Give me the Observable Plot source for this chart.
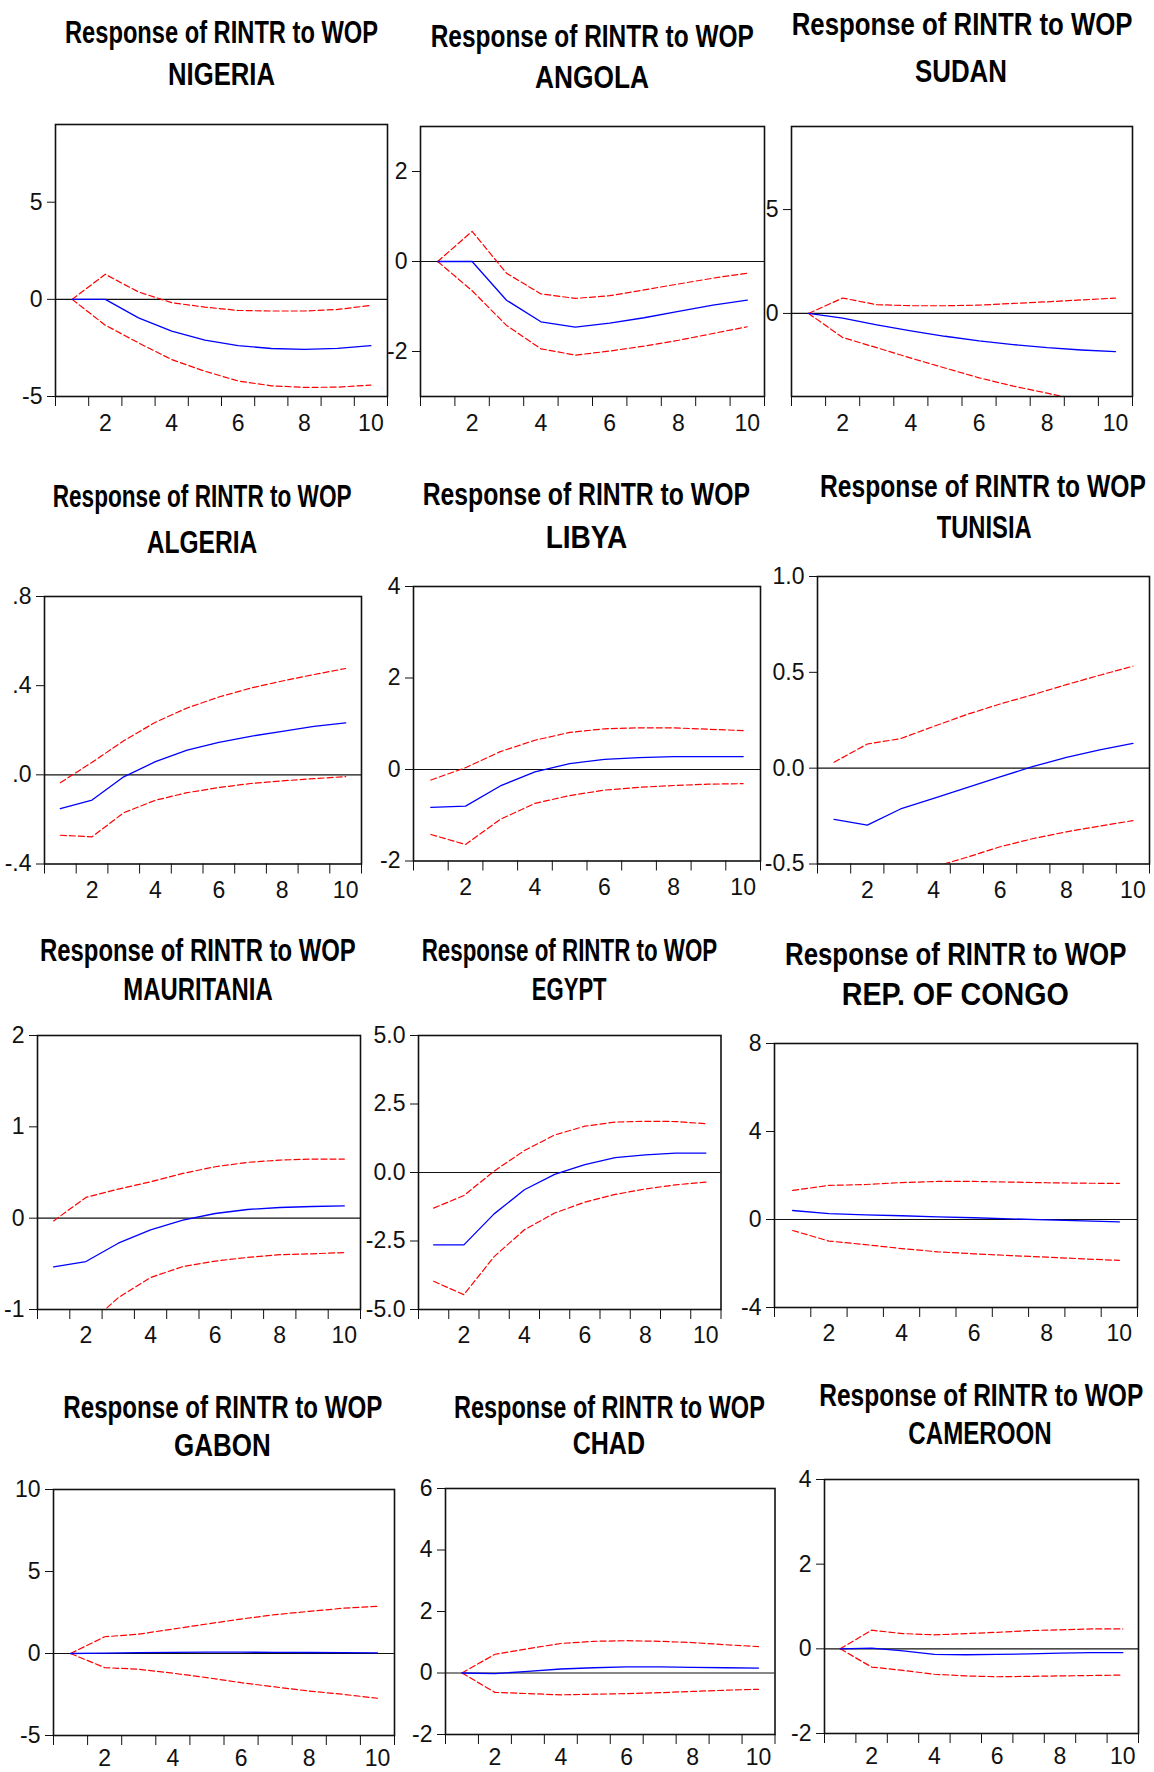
<!DOCTYPE html>
<html>
<head>
<meta charset="utf-8">
<script src="https://cdn.jsdelivr.net/npm/d3@7"></script>
<script src="https://cdn.jsdelivr.net/npm/@observablehq/plot@0.6"></script>
<style>
  html, body { margin: 0; padding: 0; background: #fff; overflow: hidden; }
  #page { position: relative; width: 1154px; height: 1772px; overflow: hidden; background: #fff; }
  .panel { position: absolute; }
  .panel svg text { font-size: 23px; font-family: "Liberation Sans Narrow", "Arial Narrow", "Liberation Sans", Arial, sans-serif; fill: #111; }
  #titles { position: absolute; left: 0; top: 0; pointer-events: none; }
</style>
</head>
<body>
<div id="page"></div>
<script>
// Impulse responses of RINTR to a WOP shock, periods 1..10, with ±2 S.E. bands
const periods = [1, 2, 3, 4, 5, 6, 7, 8, 9, 10];
const countries = ["NIGERIA", "ANGOLA", "SUDAN", "ALGERIA", "LIBYA", "TUNISIA",
                   "MAURITANIA", "EGYPT", "REP. OF CONGO", "GABON", "CHAD", "CAMEROON"];
const titleText = "Response of RINTR to WOP";

const nigeriaResp  = [0, 0, -0.95, -1.64, -2.10, -2.38, -2.53, -2.57, -2.52, -2.38];
const nigeriaUpper = [0, 1.29, 0.38, -0.17, -0.40, -0.57, -0.60, -0.60, -0.52, -0.31];
const nigeriaLower = [0, -1.33, -2.24, -3.10, -3.70, -4.20, -4.45, -4.53, -4.52, -4.41];

const angolaResp  = [0, 0, -0.86, -1.34, -1.46, -1.37, -1.25, -1.11, -0.97, -0.86];
const angolaUpper = [0, 0.67, -0.26, -0.72, -0.82, -0.76, -0.63, -0.50, -0.37, -0.26];
const angolaLower = [0, -0.65, -1.42, -1.94, -2.08, -1.99, -1.88, -1.75, -1.60, -1.45];

const sudanResp  = [0, -0.23, -0.55, -0.84, -1.10, -1.32, -1.50, -1.65, -1.76, -1.84];
const sudanUpper = [0, 0.74, 0.42, 0.37, 0.37, 0.40, 0.48, 0.56, 0.65, 0.74];
const sudanLower = [0, -1.16, -1.65, -2.15, -2.63, -3.10, -3.50, -3.84, -4.20, -4.55];

const algeriaResp  = [-0.152, -0.113, -0.009, 0.059, 0.111, 0.146, 0.173, 0.195, 0.217, 0.233];
const algeriaUpper = [-0.035, 0.056, 0.153, 0.236, 0.300, 0.349, 0.389, 0.421, 0.450, 0.477];
const algeriaLower = [-0.271, -0.278, -0.170, -0.114, -0.080, -0.057, -0.039, -0.027, -0.017, -0.008];

const libyaResp  = [-0.83, -0.80, -0.36, -0.05, 0.13, 0.22, 0.26, 0.28, 0.28, 0.28];
const libyaUpper = [-0.23, 0.04, 0.39, 0.64, 0.81, 0.89, 0.91, 0.91, 0.88, 0.85];
const libyaLower = [-1.42, -1.64, -1.09, -0.74, -0.57, -0.45, -0.39, -0.35, -0.32, -0.31];

const tunisiaResp  = [-0.267, -0.297, -0.213, -0.157, -0.101, -0.045, 0.009, 0.056, 0.096, 0.129];
const tunisiaUpper = [0.031, 0.126, 0.154, 0.218, 0.280, 0.335, 0.384, 0.436, 0.485, 0.532];
const tunisiaLower = [-0.62, -0.72, -0.62, -0.516, -0.465, -0.410, -0.367, -0.332, -0.302, -0.274];

const mauritaniaResp  = [-0.533, -0.475, -0.274, -0.128, -0.022, 0.051, 0.095, 0.117, 0.128, 0.135];
const mauritaniaUpper = [-0.03, 0.227, 0.318, 0.398, 0.490, 0.563, 0.611, 0.636, 0.647, 0.647];
const mauritaniaLower = [-1.05, -1.19, -0.87, -0.65, -0.53, -0.47, -0.43, -0.40, -0.39, -0.376];

const egyptResp  = [-2.64, -2.64, -1.51, -0.63, -0.07, 0.29, 0.54, 0.64, 0.71, 0.71];
const egyptUpper = [-1.30, -0.84, 0.05, 0.80, 1.37, 1.69, 1.84, 1.87, 1.86, 1.78];
const egyptLower = [-3.97, -4.46, -3.07, -2.09, -1.48, -1.08, -0.80, -0.60, -0.45, -0.35];

const congoResp  = [0.41, 0.27, 0.21, 0.17, 0.12, 0.08, 0.03, -0.02, -0.06, -0.11];
const congoUpper = [1.32, 1.55, 1.59, 1.68, 1.73, 1.73, 1.70, 1.67, 1.65, 1.64];
const congoLower = [-0.50, -0.98, -1.14, -1.32, -1.47, -1.56, -1.64, -1.71, -1.79, -1.86];

const gabonResp  = [0, 0.02, 0.05, 0.07, 0.08, 0.08, 0.07, 0.06, 0.05, 0.04];
const gabonUpper = [0, 1.02, 1.18, 1.49, 1.80, 2.10, 2.37, 2.57, 2.76, 2.88];
const gabonLower = [0, -0.86, -0.96, -1.20, -1.47, -1.78, -2.04, -2.29, -2.49, -2.73];

const chadResp  = [0, -0.02, 0.05, 0.13, 0.17, 0.20, 0.20, 0.18, 0.17, 0.16];
const chadUpper = [0, 0.61, 0.79, 0.96, 1.03, 1.05, 1.03, 0.99, 0.92, 0.86];
const chadLower = [0, -0.63, -0.67, -0.71, -0.69, -0.67, -0.64, -0.60, -0.56, -0.53];

const cameroonResp  = [0, 0.015, -0.05, -0.13, -0.14, -0.13, -0.12, -0.10, -0.09, -0.09];
const cameroonUpper = [0, 0.44, 0.36, 0.33, 0.36, 0.39, 0.43, 0.45, 0.47, 0.47];
const cameroonLower = [0, -0.43, -0.51, -0.60, -0.64, -0.66, -0.65, -0.64, -0.63, -0.62];

// y-axis ranges and tick values for each panel
const yDomains = [[-5, 9], [-3, 3], [-4, 9], [-0.4, 0.8], [-2, 4], [-0.5, 1],
                  [-1, 2], [-5, 5], [-4, 8], [-5, 10], [-2, 6], [-2, 4]];
const yTickValues = [[-5, 0, 5], [-2, 0, 2], [0, 5], [-0.4, 0, 0.4, 0.8], [-2, 0, 2, 4], [-0.5, 0, 0.5, 1],
                     [-1, 0, 1, 2], [-5, -2.5, 0, 2.5, 5], [-4, 0, 4, 8], [-5, 0, 5, 10], [-2, 0, 2, 4, 6], [-2, 0, 2, 4]];
const xLabelPeriods = [2, 4, 6, 8, 10];

const series = [
  [nigeriaResp, nigeriaUpper, nigeriaLower],
  [angolaResp, angolaUpper, angolaLower],
  [sudanResp, sudanUpper, sudanLower],
  [algeriaResp, algeriaUpper, algeriaLower],
  [libyaResp, libyaUpper, libyaLower],
  [tunisiaResp, tunisiaUpper, tunisiaLower],
  [mauritaniaResp, mauritaniaUpper, mauritaniaLower],
  [egyptResp, egyptUpper, egyptLower],
  [congoResp, congoUpper, congoLower],
  [gabonResp, gabonUpper, gabonLower],
  [chadResp, chadUpper, chadLower],
  [cameroonResp, cameroonUpper, cameroonLower]
];

// Tick label formats (EViews style, ASCII hyphen for negatives)
const plainFmt = d => String(d);
const fixedFmt = d => d.toFixed(1);
const dotFmt = d => (d < 0 ? "-" : "") + Math.abs(d).toFixed(1).replace(/^0/, "");
const yFormats = [plainFmt, plainFmt, plainFmt, dotFmt, plainFmt, fixedFmt,
                  plainFmt, fixedFmt, plainFmt, plainFmt, plainFmt, plainFmt];

// Layout: plot frame [left, top, right, bottom] in page pixels
const frames = [
  [55, 124, 387, 396], [420, 126, 764, 396], [791, 126, 1132, 396],
  [43.5, 596, 360.5, 863.5], [412.5, 586, 759.5, 860.5], [816.5, 576, 1148.5, 863.5],
  [36.5, 1035, 359.5, 1309], [417.5, 1035, 720, 1309], [773.5, 1042.5, 1136.5, 1306.5],
  [52.5, 1488.5, 393.5, 1734.5], [444.5, 1488, 774, 1734], [823.5, 1478.5, 1137.5, 1732.5]
];
// gap between frame bottom and the period labels
const xLabelGap = [18, 18, 18, 18, 18, 18, 17, 17, 17, 14, 14, 14];
// Title lines: [x, width, baseline] for line 1 and line 2
const titleBoxes = [
  [[65, 313, 43.3], [168, 107, 85]],
  [[430.7, 323.3, 46.7], [535, 114, 88.3]],
  [[791.7, 341, 35], [915, 92, 81.7]],
  [[52.7, 299, 506.7], [146.7, 110.6, 553.3]],
  [[422.7, 327.3, 505], [545.7, 81.6, 548.3]],
  [[820, 326, 496.7], [936.7, 95, 538.3]],
  [[40, 316, 960.7], [123.3, 149.4, 1000]],
  [[421.7, 295.6, 960.7], [531.7, 75, 1000]],
  [[785, 341.7, 965], [841.7, 227.3, 1005]],
  [[63.3, 319.4, 1418.3], [174, 96.7, 1456]],
  [[454, 311, 1417.7], [572.7, 72.3, 1454]],
  [[819.3, 324, 1405.7], [908.3, 143.4, 1444]]
];

const narrowFont = '"Liberation Sans Narrow", "Arial Narrow", "Liberation Sans", Arial, sans-serif';
const page = document.getElementById("page");
const mL = 70, mR = 4, mT = 10, mB = 44;

countries.forEach((name, i) => {
  const [fl, ft, fr, fb] = frames[i];
  const [resp, upper, lower] = series[i];
  const rows = periods.map((p, k) => ({period: p, resp: resp[k], upper: upper[k], lower: lower[k]}));
  const halfTicks = d3.range(0.5, 11, 1);

  const chart = Plot.plot({
    width: (fr - fl) + mL + mR,
    height: (fb - ft) + mT + mB,
    marginLeft: mL, marginRight: mR, marginTop: mT, marginBottom: mB,
    style: {background: "none", overflow: "visible", fontFamily: narrowFont, fontSize: "23px", color: "#111"},
    x: {domain: [0.5, 10.5], label: null},
    y: {domain: yDomains[i], label: null},
    marks: [
      Plot.ruleY([0], {stroke: "#111", strokeWidth: 1.1}),
      Plot.line(rows, {x: "period", y: "upper", stroke: "#ff0000", strokeWidth: 1.2, strokeDasharray: "6,3", clip: true}),
      Plot.line(rows, {x: "period", y: "lower", stroke: "#ff0000", strokeWidth: 1.2, strokeDasharray: "6,3", clip: true}),
      Plot.line(rows, {x: "period", y: "resp", stroke: "#0000ff", strokeWidth: 1.3, clip: true}),
      Plot.frame({stroke: "#111", strokeWidth: 1.6}),
      Plot.axisX(halfTicks, {tickSize: 10, tickFormat: () => "", label: null, stroke: "#111"}),
      Plot.axisX(xLabelPeriods, {tickSize: 0, tickPadding: xLabelGap[i], label: null, fontSize: 23, tickFormat: d => String(d)}),
      Plot.axisY(yTickValues[i], {tickSize: 8, tickPadding: 5, label: null, fontSize: 23, tickFormat: yFormats[i], stroke: "#111"})
    ]
  });
  const wrap = document.createElement("div");
  wrap.className = "panel";
  wrap.style.left = (fl - mL) + "px";
  wrap.style.top = (ft - mT) + "px";
  wrap.appendChild(chart);
  page.appendChild(wrap);
});

// Two-line panel titles, condensed horizontally to their set widths
const titles = d3.select(page).append("svg")
  .attr("id", "titles").attr("width", 1154).attr("height", 1772);
countries.forEach((name, i) => {
  const [l1, l2] = titleBoxes[i];
  [[titleText, l1], [name, l2]].forEach(([txt, [x, w, y]]) => {
    const t = titles.append("text")
      .attr("x", 0).attr("y", 0)
      .attr("font-family", narrowFont).attr("font-weight", "bold")
      .attr("font-size", 31).attr("fill", "#000")
      .text(txt);
    const natural = t.node().getComputedTextLength() || w;
    t.attr("transform", `translate(${x},${y}) scale(${w / natural},1)`);
  });
});
</script>
</body>
</html>
